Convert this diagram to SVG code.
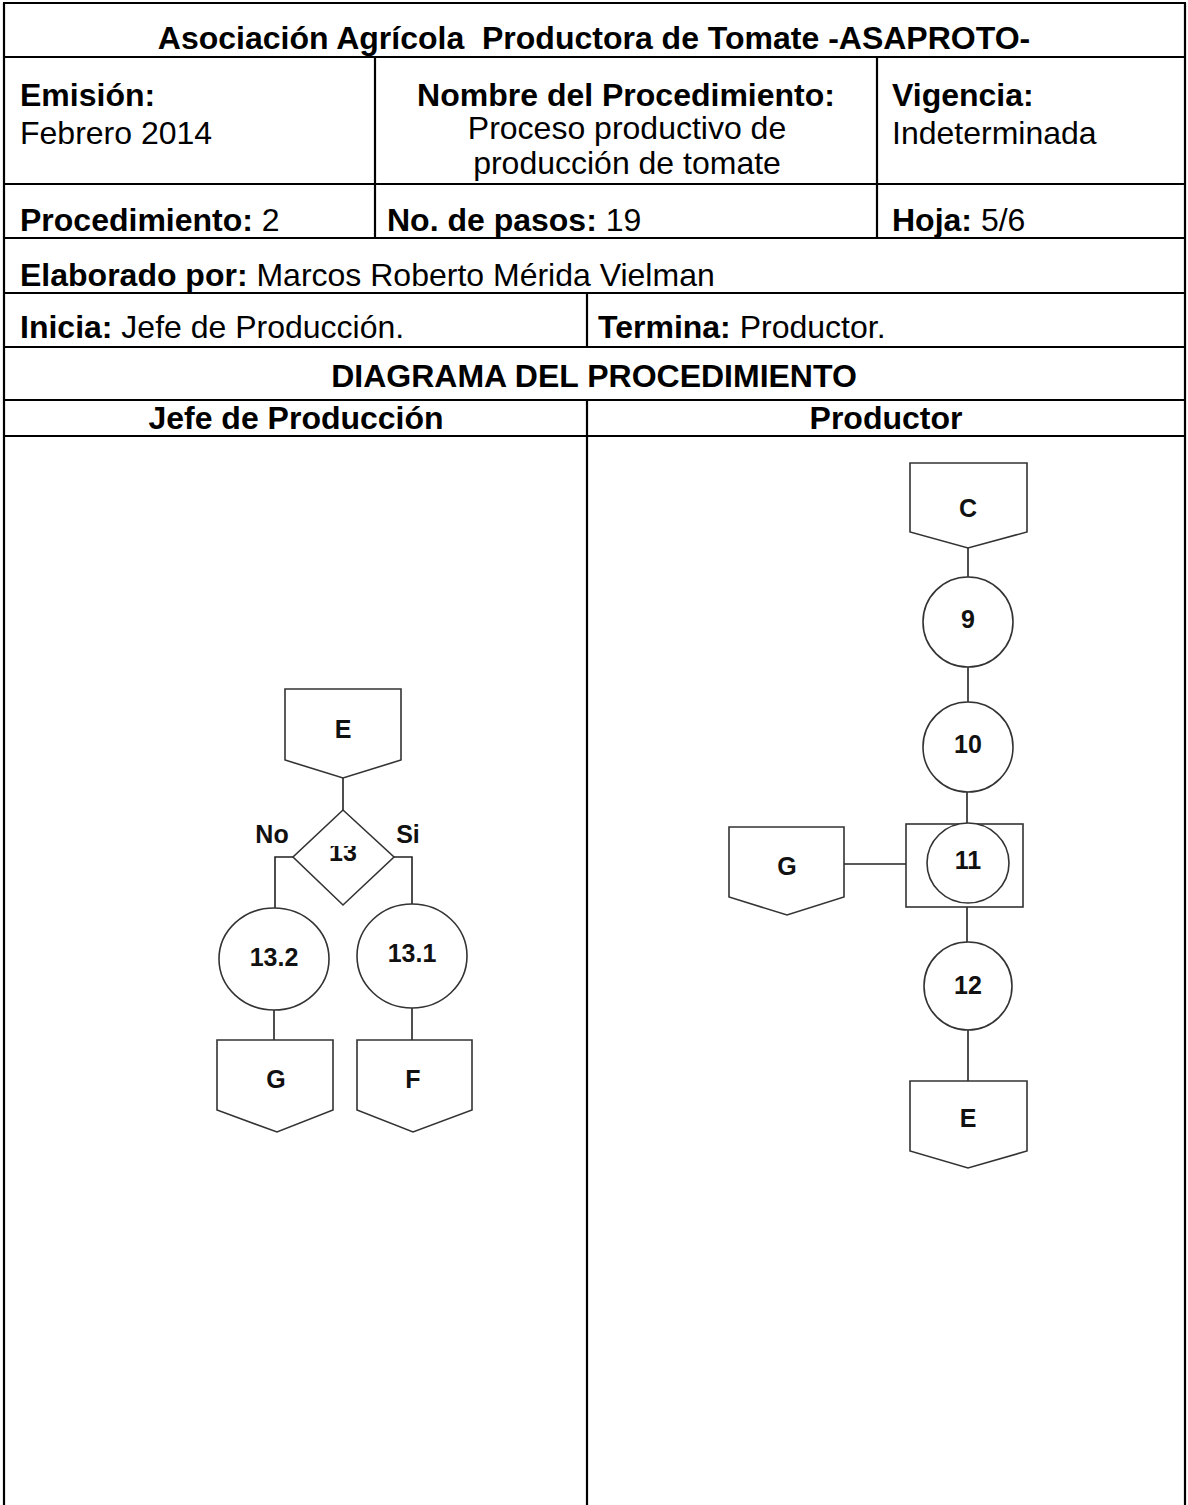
<svg xmlns="http://www.w3.org/2000/svg" width="1188" height="1505" viewBox="0 0 1188 1505">
<style>
.t{font-family:"Liberation Sans",Arial,sans-serif;font-size:32px;fill:#000;white-space:pre}
.b{font-weight:bold}
.c{text-anchor:middle}
.grid line{stroke:#000;stroke-width:2.2}
.shape{fill:#fff;stroke:#333;stroke-width:1.6}
.lbl{font-family:"Liberation Sans",Arial,sans-serif;font-weight:bold;font-size:25px;fill:#111;text-anchor:middle}
.con{stroke:#222;stroke-width:1.6;fill:none}
</style>
<defs>
<clipPath id="clip13"><rect x="300" y="846" width="90" height="40"/></clipPath>
</defs>
<rect width="1188" height="1505" fill="#fff"/>
<g id="table" class="grid">
<line x1="4" y1="3" x2="4" y2="1505"/>
<line x1="1185" y1="3" x2="1185" y2="1505"/>
<line x1="3" y1="3" x2="1186" y2="3"/>
<line x1="3" y1="57" x2="1186" y2="57"/>
<line x1="3" y1="184" x2="1186" y2="184"/>
<line x1="3" y1="238" x2="1186" y2="238"/>
<line x1="3" y1="293" x2="1186" y2="293"/>
<line x1="3" y1="347" x2="1186" y2="347"/>
<line x1="3" y1="400" x2="1186" y2="400"/>
<line x1="3" y1="436" x2="1186" y2="436"/>
<line x1="375" y1="57" x2="375" y2="238"/>
<line x1="877" y1="57" x2="877" y2="238"/>
<line x1="587" y1="293" x2="587" y2="347"/>
<line x1="587" y1="400" x2="587" y2="1505"/>
</g>
<g id="header-text">
<text class="t b c" x="594" y="49" font-size="32.5">Asociación Agrícola  Productora de Tomate -ASAPROTO-</text>
<text class="t b" x="20" y="106">Emisión:</text>
<text class="t" x="20" y="144">Febrero 2014</text>
<text class="t b c" x="626" y="106">Nombre del Procedimiento:</text>
<text class="t c" x="627" y="139">Proceso productivo de</text>
<text class="t c" x="627" y="174">producción de tomate</text>
<text class="t b" x="892" y="106">Vigencia:</text>
<text class="t" x="892" y="144">Indeterminada</text>
<text class="t" x="20" y="231"><tspan class="b">Procedimiento:</tspan> 2</text>
<text class="t" x="387" y="231"><tspan class="b">No. de pasos:</tspan> 19</text>
<text class="t" x="892" y="231"><tspan class="b">Hoja:</tspan> 5/6</text>
<text class="t" x="20" y="286"><tspan class="b">Elaborado por:</tspan> Marcos Roberto Mérida Vielman</text>
<text class="t" x="20" y="338"><tspan class="b">Inicia:</tspan> Jefe de Producción.</text>
<text class="t" x="598" y="338"><tspan class="b">Termina:</tspan> Productor.</text>
<text class="t b c" x="594" y="387">DIAGRAMA DEL PROCEDIMIENTO</text>
<text class="t b c" x="296" y="429">Jefe de Producción</text>
<text class="t b c" x="886" y="429">Productor</text>
</g>
<g id="connectors">
<line class="con" x1="343" y1="778" x2="343" y2="810"/>
<path class="con" d="M293 857 H275 V908"/>
<path class="con" d="M394 857 H412 V904"/>
<line class="con" x1="274" y1="1010" x2="274" y2="1040"/>
<line class="con" x1="412" y1="1008" x2="412" y2="1040"/>
<line class="con" x1="968" y1="548" x2="968" y2="578"/>
<line class="con" x1="968" y1="667" x2="968" y2="703"/>
<line class="con" x1="967" y1="791" x2="967" y2="824"/>
<line class="con" x1="844" y1="864" x2="906" y2="864"/>
<line class="con" x1="967" y1="907" x2="967" y2="943"/>
<line class="con" x1="968" y1="1030" x2="968" y2="1081"/>
</g>
<g id="node-E-left">
<path class="shape" d="M285 689 H401 V760 L343 778 L285 760 Z"/>
<text class="lbl" x="343" y="738">E</text>
</g>
<g id="node-13">
<path class="shape" d="M343 810 L394 857 L343 905 L293 857 Z"/>
<text class="lbl" x="343" y="861" font-size="23" clip-path="url(#clip13)">13</text>
</g>
<g id="label-no"><text class="lbl" x="272" y="843" font-size="21">No</text></g>
<g id="label-si"><text class="lbl" x="408" y="843" font-size="20">Si</text></g>
<g id="node-13-2">
<ellipse class="shape" cx="274" cy="959" rx="55" ry="51"/>
<text class="lbl" x="274" y="966" font-size="22">13.2</text>
</g>
<g id="node-13-1">
<ellipse class="shape" cx="412" cy="956" rx="55" ry="52"/>
<text class="lbl" x="412" y="962" font-size="22" font-weight="normal">13.1</text>
</g>
<g id="node-G-left">
<path class="shape" d="M217 1040 H333 V1110 L277 1132 L217 1110 Z"/>
<text class="lbl" x="276" y="1088">G</text>
</g>
<g id="node-F">
<path class="shape" d="M357 1040 H472 V1110 L413 1132 L357 1110 Z"/>
<text class="lbl" x="413" y="1088">F</text>
</g>
<g id="node-C">
<path class="shape" d="M910 463 H1027 V532 L968 548 L910 532 Z"/>
<text class="lbl" x="968" y="517">C</text>
</g>
<g id="node-9">
<circle class="shape" cx="968" cy="622" r="45"/>
<text class="lbl" x="968" y="628">9</text>
</g>
<g id="node-10">
<circle class="shape" cx="968" cy="747" r="45"/>
<text class="lbl" x="968" y="753">10</text>
</g>
<g id="node-11">
<rect class="shape" x="906" y="824" width="117" height="83"/>
<ellipse class="shape" cx="968" cy="863" rx="41" ry="40"/>
<text class="lbl" x="968" y="869">11</text>
</g>
<g id="node-G-right">
<path class="shape" d="M729 827 H844 V897 L787 915 L729 897 Z"/>
<text class="lbl" x="787" y="875">G</text>
</g>
<g id="node-12">
<circle class="shape" cx="968" cy="986" r="44"/>
<text class="lbl" x="968" y="994">12</text>
</g>
<g id="node-E-right">
<path class="shape" d="M910 1081 H1027 V1151 L968 1168 L910 1151 Z"/>
<text class="lbl" x="968" y="1127">E</text>
</g>
</svg>
